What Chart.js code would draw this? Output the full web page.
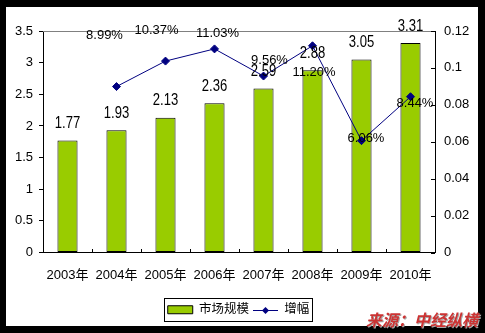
<!DOCTYPE html>
<html>
<head>
<meta charset="utf-8">
<script src="https://cdn.jsdelivr.net/npm/chart.js@4.4.1/dist/chart.umd.min.js"></script>
<style>
    html, body { margin: 0; padding: 0; }
    body { width: 485px; height: 333px; background: #000; position: relative; overflow: hidden; }
    #frame { position: absolute; left: 6px; top: 7px; width: 472px; height: 319px; background: #fff; }
    #source {
        position: absolute; right: 7px; top: 311px;
        font: italic bold 16px 'Noto Sans CJK SC', sans-serif; line-height: 16px;
        color: #cc3333; text-shadow: 1px 1px 0 #a8a8a8; white-space: nowrap;
    }
</style>
</head>
<body>
<div id="frame"><canvas id="marketChart" width="472" height="319"></canvas></div>
<div id="source">来源：中经纵横</div>
<script>
// Chart data
const years = ['2003年', '2004年', '2005年', '2006年', '2007年', '2008年', '2009年', '2010年'];
const marketSize = [1.77, 1.93, 2.13, 2.36, 2.59, 2.88, 3.05, 3.31];
const growth = [null, 0.0899, 0.1037, 0.1103, 0.0956, 0.1120, 0.0606, 0.0844];
const seriesNames = ['市场规模', '增幅'];

// Where each growth label sits relative to its point (px), as in the original
const growthLabelShift = [null, [-12, -51], [-9, -31], [3, -15], [6, -15.5], [1.5, 26.5], [4.5, -2.5], [4.5, 6.5]];

const FONT = "'Liberation Sans', Arial, 'Noto Sans CJK SC', sans-serif";
const BAR_GREEN = '#99cc00';
const NAVY = '#000080';

Chart.defaults.color = '#000';
Chart.defaults.font.family = FONT;
Chart.defaults.font.size = 13;

function fmtTick(v) {
    return String(Number(v.toFixed(2)));
}

// Excel-like extras: inside ticks, plot border, data labels, legend frame
const excelLook = {
    id: 'excelLook',
    afterDraw(chart) {
        const ctx = chart.ctx;
        const area = chart.chartArea;
        const xs = chart.scales.x;
        const y1 = chart.scales.y1;
        ctx.save();

        // grey top edge of the plot area
        ctx.strokeStyle = '#808080';
        ctx.lineWidth = 1;
        const top = Math.floor(area.top) + 0.5;
        ctx.beginPath();
        ctx.moveTo(area.left, top);
        ctx.lineTo(area.right, top);
        ctx.stroke();

        // inside tick marks on the category axis
        ctx.strokeStyle = '#000';
        const bottom = Math.round(area.bottom);
        for (let i = 1; i < years.length; i++) {
            const px = Math.round((xs.getPixelForValue(i - 1) + xs.getPixelForValue(i)) / 2) + 0.5;
            ctx.beginPath();
            ctx.moveTo(px, bottom);
            ctx.lineTo(px, bottom - 4);
            ctx.stroke();
        }
        // inside tick marks on the right axis
        y1.ticks.forEach(t => {
            const py = Math.round(y1.getPixelForValue(t.value)) + 0.5;
            ctx.beginPath();
            ctx.moveTo(area.right - 4, py);
            ctx.lineTo(area.right, py);
            ctx.stroke();
        });

        // bar value labels (tall, narrow look)
        ctx.fillStyle = '#000';
        ctx.textAlign = 'center';
        ctx.textBaseline = 'middle';
        ctx.font = '17px ' + FONT;
        chart.getDatasetMeta(0).data.forEach((bar, i) => {
            ctx.save();
            ctx.translate(bar.x, bar.y - 17);
            ctx.scale(0.77, 1);
            ctx.fillText(marketSize[i].toFixed(2), 0, 0);
            ctx.restore();
        });

        // growth labels
        ctx.font = '13px ' + FONT;
        chart.getDatasetMeta(1).data.forEach((pt, i) => {
            if (growth[i] === null) return;
            const s = growthLabelShift[i];
            ctx.fillText((growth[i] * 100).toFixed(2) + '%', pt.x + s[0], pt.y + s[1]);
        });

        // legend frame and line swatch
        const hb = chart.legend.legendHitBoxes;
        if (hb && hb.length) {
            const first = hb[0];
            const last = hb[hb.length - 1];
            const midY = first.top + first.height / 2;
            const lx = Math.round(first.left - 4) + 0.5;
            const ly = Math.round(midY - 11.5) + 0.5;
            const rx = Math.round(last.left + last.width + 3) + 0.5;
            const by = Math.round(midY + 11.5) + 0.5;
            ctx.strokeStyle = '#000';
            ctx.strokeRect(lx, ly, rx - lx, by - ly);

            const sw = hb[1];
            const cy = Math.round(midY) + 0.5;
            ctx.strokeStyle = NAVY;
            ctx.beginPath();
            ctx.moveTo(sw.left, cy);
            ctx.lineTo(sw.left + 25, cy);
            ctx.stroke();
            ctx.fillStyle = NAVY;
            const mx = sw.left + 12.5;
            ctx.beginPath();
            ctx.moveTo(mx, cy - 3.5);
            ctx.lineTo(mx + 3.5, cy);
            ctx.lineTo(mx, cy + 3.5);
            ctx.lineTo(mx - 3.5, cy);
            ctx.closePath();
            ctx.fill();
        }
        ctx.restore();
    }
};

new Chart(document.getElementById('marketChart'), {
    type: 'bar',
    data: {
        labels: years,
        datasets: [
            {
                type: 'bar',
                label: seriesNames[0],
                data: marketSize,
                backgroundColor: BAR_GREEN,
                borderColor: '#000',
                borderWidth: 1,
                borderSkipped: false,
                categoryPercentage: 1,
                barPercentage: 0.41,
                yAxisID: 'y',
                order: 2
            },
            {
                type: 'line',
                label: seriesNames[1],
                data: growth,
                borderColor: NAVY,
                backgroundColor: NAVY,
                borderWidth: 1,
                pointStyle: 'rectRot',
                pointRadius: 4,
                pointBackgroundColor: NAVY,
                pointBorderColor: NAVY,
                tension: 0,
                yAxisID: 'y1',
                order: 1
            }
        ]
    },
    options: {
        responsive: false,
        animation: false,
        layout: {
            padding: { top: 24, right: 7, bottom: 0, left: 0 }
        },
        plugins: {
            tooltip: { enabled: false },
            legend: {
                position: 'bottom',
                labels: {
                    boxWidth: 25,
                    boxHeight: 8,
                    padding: 4,
                    color: '#000',
                    font: { size: 12.5, family: FONT },
                    generateLabels(chart) {
                        return chart.data.datasets.map((ds, i) => ({
                            text: ds.label,
                            datasetIndex: i,
                            fillStyle: i === 0 ? BAR_GREEN : 'rgba(0,0,0,0)',
                            strokeStyle: i === 0 ? '#000' : 'rgba(0,0,0,0)',
                            lineWidth: i === 0 ? 1 : 0,
                            hidden: false
                        }));
                    }
                }
            }
        },
        scales: {
            x: {
                grid: { drawOnChartArea: false, drawTicks: false },
                border: { color: '#000', width: 1 },
                ticks: { padding: 15, font: { size: 13 }, maxRotation: 0 },
                afterFit(scale) { scale.height = 47; }
            },
            y: {
                position: 'left',
                min: 0,
                max: 3.5,
                ticks: { stepSize: 0.5, padding: 6, callback: fmtTick },
                grid: { drawOnChartArea: false, drawTicks: true, tickLength: 4, color: '#000' },
                border: { color: '#000', width: 1 },
                afterFit(scale) { scale.width = 37; }
            },
            y1: {
                position: 'right',
                min: 0,
                max: 0.12,
                ticks: { stepSize: 0.02, padding: 9, callback: fmtTick },
                grid: { drawOnChartArea: false, drawTicks: false },
                border: { color: '#000', width: 1 },
                afterFit(scale) { scale.width = 36; }
            }
        }
    },
    plugins: [excelLook]
});
</script>
</body>
</html>
